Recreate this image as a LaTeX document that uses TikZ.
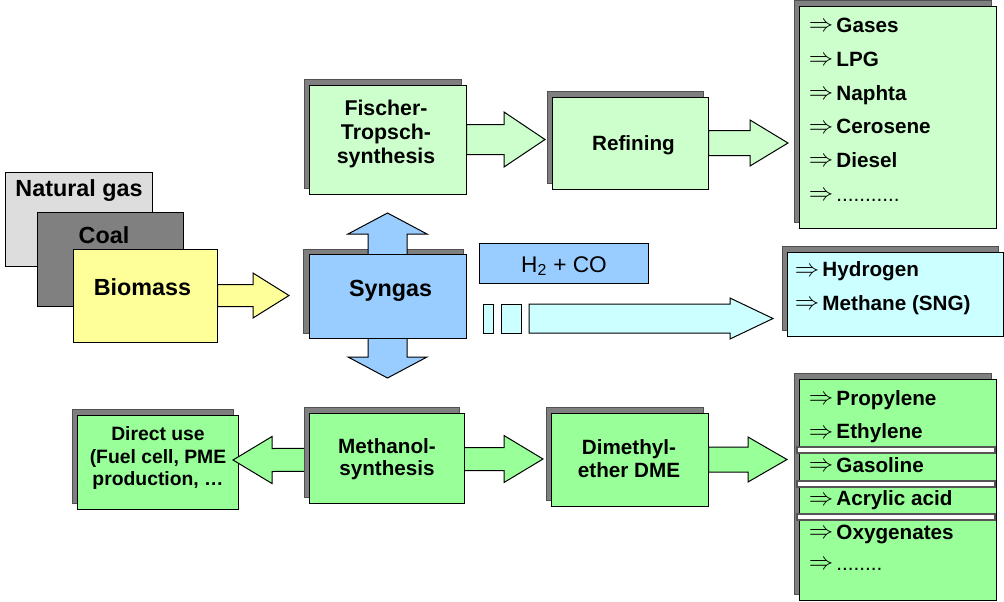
\documentclass[tikz,border=0pt]{standalone}
\usepackage{fontspec}
\setmainfont{Liberation Sans}
\usetikzlibrary{calc,fit,shadows}
\definecolor{ngray}{HTML}{DDDDDD}
\definecolor{coalgray}{HTML}{808080}
\definecolor{bioY}{HTML}{FFFF99}
\definecolor{synB}{HTML}{99CCFF}
\definecolor{cyanL}{HTML}{CCFFFF}
\definecolor{greenL}{HTML}{CCFFCC}
\definecolor{greenM}{HTML}{99FF99}
\definecolor{shadowG}{HTML}{7F7F7F}
\definecolor{shadowE}{HTML}{505050}
\definecolor{stripeE}{HTML}{555555}
% right-pointing block arrow: style, tail, tip, shaft half, head half, head length
\newcommand\blockR[6]{\filldraw[#1] ($(#2)+(0,-#4)$) -- ($(#3)+(-#6,-#4)$) -- ($(#3)+(-#6,-#5)$) -- (#3) -- ($(#3)+(-#6,#5)$) -- ($(#3)+(-#6,#4)$) -- ($(#2)+(0,#4)$) -- cycle;}
% left-right block arrow: style, left tip, right tip, shaft half, head half, head length
\newcommand\blockLR[6]{\filldraw[#1] (#2) -- ($(#2)+(#6,-#5)$) -- ($(#2)+(#6,-#4)$) -- ($(#3)+(-#6,-#4)$) -- ($(#3)+(-#6,-#5)$) -- (#3) -- ($(#3)+(-#6,#5)$) -- ($(#3)+(-#6,#4)$) -- ($(#2)+(#6,#4)$) -- ($(#2)+(#6,#5)$) -- cycle;}
% up-down block arrow: style, top tip, bottom tip, shaft half, head half, head length
\newcommand\blockUD[6]{\filldraw[#1] (#2) -- ($(#2)+(#5,#6)$) -- ($(#2)+(#4,#6)$) -- ($(#3)+(#4,-#6)$) -- ($(#3)+(#5,-#6)$) -- (#3) -- ($(#3)+(-#5,-#6)$) -- ($(#3)+(-#4,-#6)$) -- ($(#2)+(-#4,#6)$) -- ($(#2)+(-#5,#6)$) -- cycle;}
\tikzset{
  box/.style={draw=black, line width=0.75pt, inner sep=0pt},
  shad/.style={general shadow={fill=shadowG, draw=shadowE, shadow xshift=-3.75pt, shadow yshift=4pt}},
  arr/.style={draw=black, line width=0.75pt, line join=miter},
  tbig/.style={font=\fontsize{17.5}{21}\selectfont\bfseries, inner sep=0pt, text height=12.5pt, text depth=0pt},
  tmid/.style={font=\fontsize{15.5}{18}\selectfont\bfseries, inner sep=0pt, text height=11.1pt, text depth=0pt},
  titem/.style={tmid, anchor=west},
  mlft/.style={font=\fontsize{16}{18}\selectfont\bfseries, align=center, inner sep=0pt},
  mlbot/.style={font=\fontsize{15.5}{16.9}\selectfont\bfseries, align=center, inner sep=0pt},
  mldir/.style={font=\fontsize{14.5}{16.9}\selectfont\bfseries, align=center, inner sep=0pt},
  stripe/.style={fill=white, draw=stripeE, line width=1.5pt},
}
\newcommand\imp{\raisebox{0.6pt}{\scalebox{1.27}{$\Rightarrow$}}\kern2.5pt}
\begin{document}
\begin{tikzpicture}[x=0.75pt,y=-0.75pt]
\useasboundingbox (0,0) rectangle (1004,601);
\fill[white] (0,0) rectangle (1004,601);

% feedstocks
\node[box, fill=ngray, fit={(5,172) (152,266)}] (ng) {};
\node[tbig] (ngt) at (79,188) {Natural gas};
\node[box, fill=coalgray, fit={(37,212) (183,306)}] (coal) {};
\node[tbig] (coalt) at (104,235) {Coal};
\node[box, fill=bioY, fit={(73,249) (217,342)}] (bio) {};
\node[tbig] (biot) at (142.5,287) {Biomass};

% syngas with vertical double arrow
\filldraw[fill=shadowG, draw=shadowE, line width=0.75pt] (303,249) rectangle (463,333);
\coordinate (sgT) at (387.5,213);
\coordinate (sgB) at (387.5,378);
\blockUD{arr, fill=synB}{sgT}{sgB}{19.5}{39.5}{21}
\node[box, fill=synB, fit={(309,254) (466,338)}] (syn) {};
\node[tbig] (synt) at (390.5,288) {Syngas};

\coordinate (bioTip) at (289,295.5);
\blockR{arr, fill=bioY}{bio.east}{bioTip}{11}{22.5}{36}

% H2 + CO
\node[box, fill=synB, fit={(479,243) (648,283)}] (h2co) {};
\node[font=\fontsize{17}{20}\selectfont, inner sep=0pt, text height=12.2pt, text depth=0pt] (h2cot) at (564,264) {H\textsubscript{2} + CO};

% Fischer-Tropsch row
\node[box, shad, fill=greenL, fit={(309,85) (466,194)}] (ft) {};
\node[mlft] (ftt) at (386,134) {Fischer-\\Tropsch-\\synthesis};
\node[box, shad, fill=greenL, fit={(552,97) (708,189)}] (ref) {};
\node[tmid] (reft) at (633.5,143) {Refining};
\coordinate (ftTip) at (545,139.5);
\blockR{arr, fill=greenL}{ft.east}{ftTip}{15}{27.5}{41}
\coordinate (refTip) at (788,143);
\blockR{arr, fill=greenL}{ref.east}{refTip}{12.5}{23}{38}

\node[box, shad, fill=greenL, fit={(799,6) (996,228)}] (prodA) {};
\node[titem] (a1) at (808.5,25) {\imp Gases};
\node[titem] (a2) at (808.5,58.8) {\imp LPG};
\node[titem] (a3) at (808.5,92.6) {\imp Naphta};
\node[titem] (a4) at (808.5,126.4) {\imp Cerosene};
\node[titem] (a5) at (808.5,160.2) {\imp Diesel};
\node[titem] (a6) at (808.5,194) {\imp{\mdseries ...........}};

% hydrogen row
\filldraw[arr, fill=cyanL] (483,304) rectangle (493,333);
\filldraw[arr, fill=cyanL] (501,304) rectangle (521,333);
\coordinate (hTail) at (529,318.5);
\coordinate (hTip) at (773,318.5);
\blockR{arr, fill=cyanL}{hTail}{hTip}{14.5}{20.5}{43}
\node[box, shad, fill=cyanL, fit={(787,252) (1003,336)}] (hyd) {};
\node[titem] (h1) at (794.5,269.5) {\imp Hydrogen};
\node[titem] (h2) at (794.5,303) {\imp Methane (SNG)};

% methanol row
\node[box, shad, fill=greenM, fit={(77,415) (238,509)}] (dir) {};
\node[mldir] (dirt) at (158,458) {Direct use\\(Fuel cell, PME\\production, …};
\coordinate (mL) at (233,460);
\coordinate (mR) at (543,459);
\blockLR{arr, fill=greenM}{mL}{mR}{11.5}{23.5}{39}
\node[box, shad, fill=greenM, fit={(309,413) (464,503)}] (meth) {};
\node[mlbot] (metht) at (387,459) {Methanol-\\synthesis};
\node[box, shad, fill=greenM, fit={(551,413) (708,506)}] (dme) {};
\node[mlbot] (dmet) at (629,458.5) {Dimethyl-\\ether DME};
\coordinate (dmeTip) at (787,459.5);
\blockR{arr, fill=greenM}{dme.east}{dmeTip}{12.5}{22.5}{39}

\node[box, shad, fill=greenM, fit={(799,379) (996,600)}] (prodB) {};
\draw[stripe] (797,447) rectangle (995,453);
\draw[stripe] (797,481) rectangle (995,487);
\draw[stripe] (797,514) rectangle (995,520);
\node[titem] (b1) at (808.5,398) {\imp Propylene};
\node[titem] (b2) at (808.5,431.5) {\imp Ethylene};
\node[titem] (b3) at (808.5,465) {\imp Gasoline};
\node[titem] (b4) at (808.5,498.5) {\imp Acrylic acid};
\node[titem] (b5) at (808.5,532) {\imp Oxygenates};
\node[titem] (b6) at (808.5,563) {\imp{\mdseries ........}};
\end{tikzpicture}
\end{document}
